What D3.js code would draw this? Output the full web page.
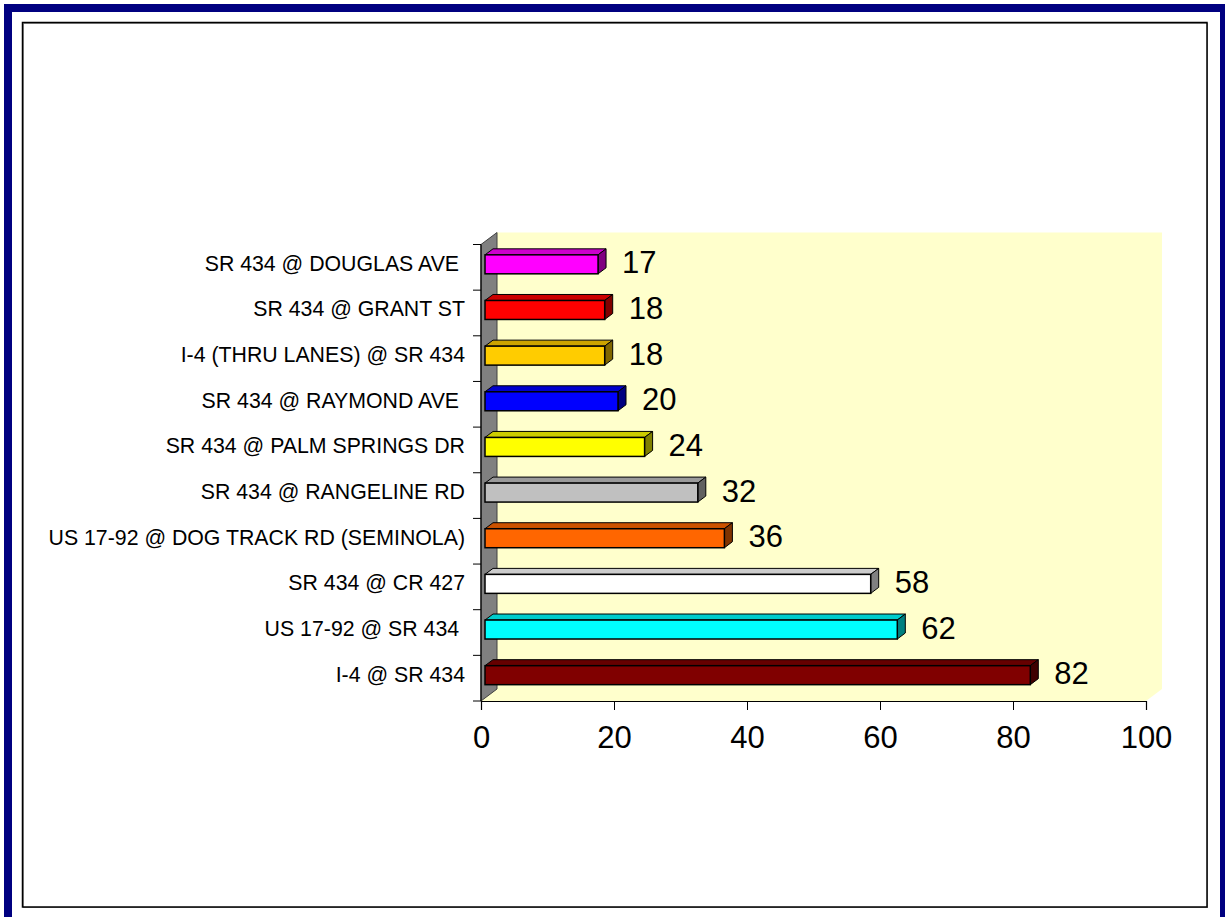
<!DOCTYPE html>
<html>
<head>
<meta charset="utf-8">
<script src="https://cdn.jsdelivr.net/npm/d3@7"></script>
<style>
  html, body { margin: 0; padding: 0; background: #fff; }
  svg { display: block; }
  text { font-family: "Liberation Sans", Arial, sans-serif; fill: #000; }
</style>
</head>
<body>
<svg id="chart" width="1225" height="917"></svg>
<script>
// ---- data (top to bottom as drawn) ----
const categories = [
  "SR 434 @ DOUGLAS AVE ",
  "SR 434 @ GRANT ST",
  "I-4 (THRU LANES) @ SR 434",
  "SR 434 @ RAYMOND AVE ",
  "SR 434 @ PALM SPRINGS DR",
  "SR 434 @ RANGELINE RD",
  "US 17-92 @ DOG TRACK RD (SEMINOLA)",
  "SR 434 @ CR 427",
  "US 17-92 @ SR 434 ",
  "I-4 @ SR 434"
];
const values = [17, 18, 18, 20, 24, 32, 36, 58, 62, 82];
const barColors = ["#FF00FF", "#FF0000", "#FFCC00", "#0000FF", "#FFFF00",
                   "#C0C0C0", "#FF6600", "#FFFFFF", "#00FFFF", "#800000"];
const xTicks = [0, 20, 40, 60, 80, 100];

// ---- layout ----
const svg = d3.select("#chart");
const W = 1225, H = 917;
const plot = { left: 481, right: 1146, top: 244.5, bottom: 701 };
const wallDepth = { dx: 16, dy: -12 };   // depth of the 3D box
const barOff = { dx: 4, dy: -3 };        // bar front face offset in depth
const barDepth = { dx: 8, dy: -6 };      // bar thickness in depth

const x = d3.scaleLinear().domain([0, 100]).range([plot.left, plot.right]);
const y = d3.scaleBand().domain(categories)
  .range([plot.top, plot.bottom]).paddingInner(0.584).paddingOuter(0.292);

// ---- frame ----
svg.append("rect").attr("x", 0).attr("y", 0).attr("width", W).attr("height", H).attr("fill", "#fff");
svg.append("rect").attr("x", 8).attr("y", 8).attr("width", 1216).attr("height", 930)
  .attr("fill", "none").attr("stroke", "#000080").attr("stroke-width", 8);
svg.append("rect").attr("x", 23.5).attr("y", 23.5).attr("width", 1184).attr("height", 884)
  .attr("fill", "none").attr("stroke", "#909090").attr("stroke-width", 1);
svg.append("rect").attr("x", 22.5).attr("y", 22.5).attr("width", 1184.5).attr("height", 884.5)
  .attr("fill", "none").attr("stroke", "#000").attr("stroke-width", 1.5);

// ---- 3D walls ----
const x0 = x(0), x1 = x(100), yT = plot.top, yB = plot.bottom;
const dx = wallDepth.dx, dy = wallDepth.dy;
svg.append("polygon")
  .attr("points", [[x0 + dx, yT + dy], [x1 + dx, yT + dy], [x1 + dx, yB + dy], [x1, yB], [x0, yB]].map(p => p.join(",")).join(" "))
  .attr("fill", "#FFFFCC");
svg.append("polygon")
  .attr("points", [[x0, yT], [x0 + dx, yT + dy], [x0 + dx, yB + dy], [x0, yB]].map(p => p.join(",")).join(" "))
  .attr("fill", "#808080").attr("stroke", "#404040").attr("stroke-width", 1);

// ---- axes ----
const step = y.step();
const yBounds = d3.range(categories.length + 1).map(k => plot.top + k * step);
svg.append("g").selectAll("line").data(yBounds).join("line")
  .attr("x1", x0 - 8).attr("x2", x0).attr("y1", d => d).attr("y2", d => d)
  .attr("stroke", "#000").attr("stroke-width", 1);
svg.append("line").attr("x1", x0).attr("x2", x0).attr("y1", yT).attr("y2", yB)
  .attr("stroke", "#000").attr("stroke-width", 1.2);

const xAxis = svg.append("g").attr("transform", `translate(0,${yB})`)
  .call(d3.axisBottom(x).tickValues(xTicks).tickSize(9).tickPadding(16).tickFormat(d3.format("d")));
xAxis.select(".domain").attr("stroke", "#000").attr("stroke-width", 1.2);
xAxis.selectAll(".tick line").attr("stroke", "#000");
xAxis.selectAll(".tick text").attr("font-size", 31).attr("font-family", "Liberation Sans, Arial, sans-serif")
  .attr("fill", "#000").attr("dy", "0.71em");

// ---- category labels ----
svg.append("g").selectAll("text").data(categories).join("text")
  .attr("x", 465)
  .attr("y", d => y(d) + y.bandwidth() / 2 + 3.5)
  .attr("text-anchor", "end")
  .attr("font-size", 21.3)
  .style("white-space", "pre")
  .text(d => d);

// ---- bars ----
const shade = (c, k) => { const r = d3.rgb(c); return d3.rgb(r.r * k, r.g * k, r.b * k).formatHex(); };
const bars = svg.append("g").selectAll("g").data(values.map((v, i) => ({ v, c: categories[i], col: barColors[i] }))).join("g");
const pts = a => a.map(p => p.join(",")).join(" ");
bars.each(function (d) {
  const g = d3.select(this);
  const bx0 = x(0) + barOff.dx, bx1 = x(d.v) + barOff.dx;
  const by0 = y(d.c) + barOff.dy, by1 = by0 + y.bandwidth();
  const ddx = barDepth.dx, ddy = barDepth.dy;
  // top face
  g.append("polygon").attr("points", pts([[bx0, by0], [bx0 + ddx, by0 + ddy], [bx1 + ddx, by0 + ddy], [bx1, by0]]))
    .attr("fill", shade(d.col, 0.8)).attr("stroke", "#000").attr("stroke-width", 1).attr("stroke-linejoin", "round");
  // side face
  g.append("polygon").attr("points", pts([[bx1, by0], [bx1 + ddx, by0 + ddy], [bx1 + ddx, by1 + ddy], [bx1, by1]]))
    .attr("fill", shade(d.col, 0.5)).attr("stroke", "#000").attr("stroke-width", 1).attr("stroke-linejoin", "round");
  // front face
  g.append("rect").attr("x", bx0).attr("y", by0).attr("width", bx1 - bx0).attr("height", by1 - by0)
    .attr("fill", d.col).attr("stroke", "#000").attr("stroke-width", 1.5);
});

// ---- value labels ----
svg.append("g").selectAll("text").data(values).join("text")
  .attr("x", d => x(d) + barOff.dx + 24)
  .attr("y", (d, i) => y(categories[i]) + y.bandwidth() / 2 + 6)
  .attr("font-size", 31)
  .text(d => d);
</script>
</body>
</html>
